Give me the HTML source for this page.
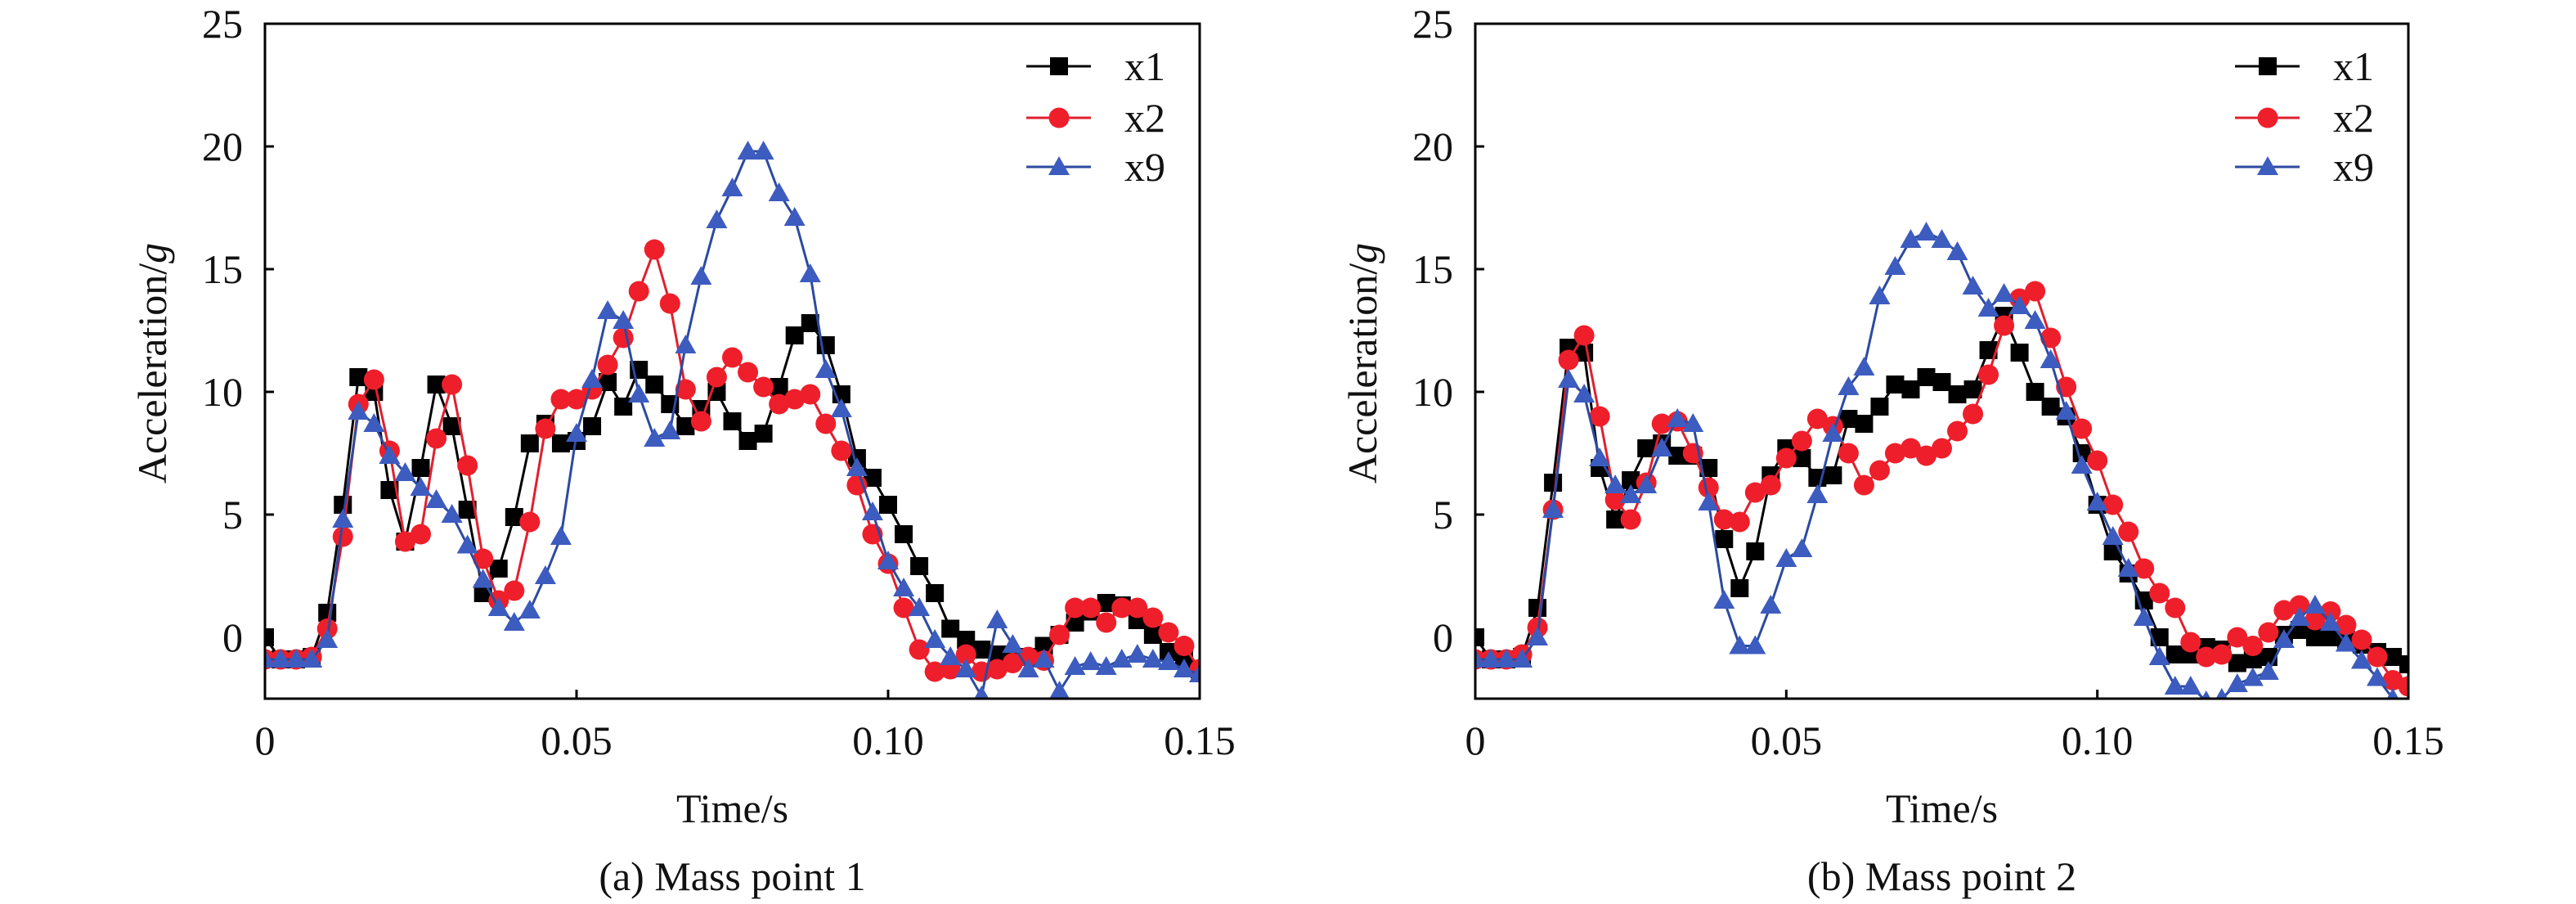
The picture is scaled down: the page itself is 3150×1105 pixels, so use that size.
<!DOCTYPE html>
<html><head><meta charset="utf-8"><style>
html,body{margin:0;padding:0;background:#fff;}
svg{display:block;font-family:"Liberation Serif",serif;}
</style></head><body>
<svg id="chart" width="3150" height="1105" viewBox="0 0 3150 1105" xmlns="http://www.w3.org/2000/svg"></svg>
<script>
const times = [];
for (let i = 0; i <= 60; i++) times.push(i * 0.0025);
const p1x1 = [0,-0.9,-0.9,-0.8,1.0,5.4,10.6,10.0,6.0,3.9,6.9,10.3,8.6,5.2,1.8,2.8,4.9,7.9,8.7,7.9,8.0,8.6,10.4,9.4,10.9,10.3,9.5,8.6,9.3,10.0,8.8,8.0,8.3,10.2,12.3,12.8,11.9,9.9,7.3,6.5,5.4,4.2,2.9,1.8,0.35,-0.1,-0.5,-0.7,-0.8,-0.8,-0.35,0.1,0.6,1.05,1.4,1.3,0.7,0.1,-0.6,-0.9,-1.3];
const p1x2 = [-0.9,-0.9,-0.9,-0.8,0.35,4.1,9.5,10.5,7.6,3.9,4.2,8.1,10.3,7.0,3.2,1.5,1.9,4.7,8.5,9.7,9.7,10.1,11.1,12.2,14.1,15.8,13.6,10.1,8.8,10.6,11.4,10.8,10.2,9.5,9.7,9.9,8.7,7.6,6.2,4.2,3.0,1.2,-0.5,-1.4,-1.3,-0.7,-1.4,-1.3,-1.05,-0.8,-0.95,0.1,1.2,1.2,0.6,1.2,1.2,0.8,0.2,-0.35,-1.3];
const p1x9 = [-0.9,-0.9,-0.9,-0.9,-0.1,4.8,9.2,8.7,7.4,6.7,6.1,5.6,5.0,3.75,2.35,1.2,0.6,1.1,2.5,4.1,8.3,10.5,13.3,12.9,9.9,8.1,8.4,11.9,14.7,17.0,18.3,19.8,19.8,18.1,17.1,14.8,10.9,9.3,6.9,5.1,3.1,2.0,1.2,-0.1,-0.8,-1.3,-2.4,0.7,-0.3,-1.3,-0.9,-2.2,-1.2,-1.0,-1.2,-0.9,-0.7,-0.9,-1.0,-1.3,-1.5];
const p2x1 = [0,-0.9,-0.9,-0.8,1.2,6.3,11.8,11.6,6.9,4.8,6.4,7.7,7.9,7.4,7.4,6.9,4.0,2.0,3.5,6.6,7.7,7.3,6.5,6.6,8.9,8.7,9.4,10.3,10.1,10.6,10.4,9.9,10.1,11.7,13.1,11.6,10.0,9.4,9.0,7.5,5.4,3.5,2.6,1.5,0,-0.7,-0.7,-0.4,-0.5,-1.05,-0.9,-0.8,0.1,0.3,0.0,0.0,-0.1,-0.3,-0.6,-0.8,-1.1];
const p2x2 = [-0.9,-0.9,-0.9,-0.7,0.4,5.2,11.3,12.3,9.0,5.6,4.8,6.3,8.7,8.8,7.5,6.1,4.8,4.7,5.9,6.2,7.3,8.0,8.9,8.6,7.5,6.2,6.8,7.5,7.7,7.4,7.7,8.4,9.1,10.7,12.7,13.8,14.1,12.2,10.2,8.5,7.2,5.4,4.3,2.8,1.8,1.2,-0.2,-0.8,-0.7,0.0,-0.35,0.2,1.1,1.3,0.7,1.05,0.5,-0.1,-0.8,-1.75,-2.0];
const p2x9 = [-0.9,-0.9,-0.9,-0.9,0.0,5.2,10.5,9.9,7.3,6.2,5.8,6.2,7.7,8.9,8.7,5.5,1.5,-0.35,-0.35,1.3,3.2,3.6,5.8,8.3,10.2,11.0,13.9,15.1,16.2,16.5,16.2,15.7,14.3,13.4,14.0,13.5,12.9,11.3,9.2,7.0,5.5,4.1,2.8,0.8,-0.8,-2.0,-2.0,-2.6,-2.5,-1.9,-1.65,-1.4,-0.1,0.8,1.3,0.6,-0.25,-0.95,-1.65,-2.5,-3.0];
const xTicks = [0, 0.05, 0.10, 0.15];
const xTickLabels = ["0", "0.05", "0.10", "0.15"];
const yTicks = [0, 5, 10, 15, 20, 25];
const yTickLabels = ["0", "5", "10", "15", "20", "25"];
const seriesNames = ["x1", "x2", "x9"];

const NS = "http://www.w3.org/2000/svg";
const svg = document.getElementById("chart");
function mk(tag, attrs, parent) {
  const e = document.createElementNS(NS, tag);
  for (const k in attrs) e.setAttribute(k, attrs[k]);
  (parent || svg).appendChild(e);
  return e;
}
const styles = [
  {line:"#000000", fill:"#000000", marker:"square"},
  {line:"#e0202e", fill:"#ee1f2b", marker:"circle"},
  {line:"#2c4aa0", fill:"#3d5cbf", marker:"triangle"}
];
function marker(g, type, cx, cy, st) {
  let m;
  if (type === "square") m = mk("rect", {x:cx-11, y:cy-11, width:22, height:22, fill:st.fill}, g);
  else if (type === "circle") m = mk("circle", {cx:cx, cy:cy, r:12.5, fill:st.fill}, g);
  else m = mk("polygon", {points:`${cx},${cy-13} ${cx-13},${cy+10} ${cx+13},${cy+10}`, fill:st.fill}, g);
  
  
}
function drawPanel(idx, left, right, seriesData, caption) {
  const top = 29, bottom = 854;
  const xMin = 0, xMax = 0.15, yMin = -2.5, yMax = 25;
  const xs = t => left + (t - xMin) / (xMax - xMin) * (right - left);
  const ys = v => bottom - (v - yMin) / (yMax - yMin) * (bottom - top);
  const panel = mk("g", {});
  
  
  const cp = mk("clipPath", {id:"clip" + idx}, panel);
  mk("rect", {x:left, y:top, width:right-left, height:bottom-top}, cp);
  const plot = mk("g", {"clip-path":"url(#clip" + idx + ")"}, panel);
  
  
  seriesData.forEach((vals, si) => {
    const st = styles[si];
    const g = mk("g", {}, plot);
    
    
    const pts = vals.map((v, i) => xs(times[i]).toFixed(1) + "," + ys(v).toFixed(1)).join(" ");
    const pl = mk("polyline", {points:pts, fill:"none", stroke:st.line, "stroke-width":3, "stroke-linejoin":"round"}, g);
    
    
    vals.forEach((v, i) => marker(g, st.marker, xs(times[i]), ys(v), st));
  });
  const frame = mk("rect", {x:left, y:top, width:right-left, height:bottom-top, fill:"none", stroke:"#000", "stroke-width":3}, panel);
  
  
  xTicks.forEach((t, i) => {
    const x = xs(t);
    const tk = mk("line", {x1:x, y1:bottom, x2:x, y2:bottom-11, stroke:"#000", "stroke-width":3}, panel);
    
    
    const tx = mk("text", {x:x, y:922, "font-size":50, "text-anchor":"middle", fill:"#111"}, panel);
    tx.textContent = xTickLabels[i];
    
    
  });
  yTicks.forEach((v, i) => {
    const y = ys(v);
    const tk = mk("line", {x1:left, y1:y, x2:left+11, y2:y, stroke:"#000", "stroke-width":3}, panel);
    
    
    const tx = mk("text", {x:left-27, y:y+17, "font-size":50, "text-anchor":"end", fill:"#111"}, panel);
    tx.textContent = yTickLabels[i];
    
    
  });
  const xt = mk("text", {x:(left+right)/2, y:1005, "font-size":50, "text-anchor":"middle", fill:"#111"}, panel);
  xt.textContent = "Time/s";
  
  
  const yt = mk("text", {x:0, y:0, "font-size":50, "text-anchor":"middle", fill:"#111", transform:`translate(${left-121},444) rotate(-90)`}, panel);
  
  
  yt.appendChild(document.createTextNode("Acceleration/"));
  const it = mk("tspan", {"font-style":"italic"}, yt);
  it.textContent = "g";
  const cap = mk("text", {x:(left+right)/2, y:1088, "font-size":50, "text-anchor":"middle", fill:"#111"}, panel);
  cap.textContent = caption;
  
  
  const lg = mk("g", {}, panel);
  
  
  [81, 144, 204].forEach((y, si) => {
    const st = styles[si];
    const e = mk("g", {}, lg);
    
    
    mk("line", {x1:right-212, y1:y, x2:right-133, y2:y, stroke:st.line, "stroke-width":3}, e);
    marker(e, st.marker, right-172, y, st);
    const t = mk("text", {x:right-92, y:y+17, "font-size":50, fill:"#111"}, e);
    t.textContent = seriesNames[si];
  });
}
drawPanel(0, 324, 1467, [p1x1, p1x2, p1x9], "(a) Mass point 1");
drawPanel(1, 1804, 2945, [p2x1, p2x2, p2x9], "(b) Mass point 2");
</script>
</body></html>
